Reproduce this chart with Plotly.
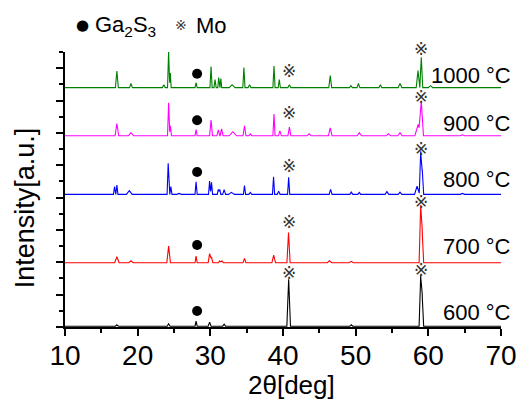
import plotly.graph_objects as go

# ---------------- data ----------------
temperatures = ["600 °C", "700 °C", "800 °C", "900 °C", "1000 °C"]
colors = ["black", "#ff0000", "#0000ff", "#ff00ff", "#008000"]
offsets = [0.05, 3.97, 8.2, 11.82, 14.8]

# peak positions (2θ, deg), heights (a.u.) and half-widths (deg)
pos_600 = [17.14, 24.26, 28.04, 29.9, 31.9, 40.78, 49.4, 58.95, 59.16]
hgt_600 = [0.09, 0.15, 0.31, 0.25, 0.12, 2.9, 0.09, 3.15, 1.85]
wid_600 = [0.2, 0.2, 0.15, 0.2, 0.2, 0.25, 0.2, 0.22, 0.2]

pos_700 = [17.14, 19.08, 24.26, 28.04, 29.9, 30.15, 31.3, 31.6, 34.7, 38.72,
           40.76, 46.4, 49.4, 58.95, 59.16]
hgt_700 = [0.37, 0.12, 1.03, 0.41, 0.57, 0.37, 0.12, 0.12, 0.27, 0.48,
           1.87, 0.12, 0.09, 3.57, 1.92]
wid_700 = [0.3, 0.3, 0.25, 0.15, 0.2, 0.2, 0.2, 0.2, 0.2, 0.25,
           0.22, 0.3, 0.3, 0.22, 0.2]

pos_800 = [16.82, 17.14, 18.85, 24.2, 24.57, 25.7, 28.04, 29.9, 30.16, 31.1,
           31.3, 31.9, 32.9, 34.7, 35.5, 38.7, 39.4, 40.78, 46.55, 49.4,
           50.5, 54.3, 56.1, 58.45, 58.95, 59.16, 64.7]
hgt_800 = [0.48, 0.57, 0.23, 1.92, 0.48, 0.06, 0.78, 0.82, 0.74, 0.31,
           0.31, 0.29, 0.12, 0.54, 0.12, 1.09, 0.2, 1.05, 0.31, 0.14,
           0.12, 0.17, 0.14, 0.5, 2.66, 1.55, 0.06]
wid_800 = [0.15, 0.15, 0.4, 0.15, 0.15, 0.3, 0.15, 0.15, 0.15, 0.15,
           0.15, 0.2, 0.4, 0.15, 0.2, 0.15, 0.2, 0.15, 0.2, 0.2,
           0.2, 0.25, 0.25, 0.35, 0.2, 0.2, 0.3]

pos_900 = [17.14, 19.08, 24.26, 24.5, 28.04, 30.1, 31.1, 31.55, 33.1, 34.7,
           35.5, 38.76, 39.57, 40.88, 43.6, 46.5, 50.5, 54.5, 56.1, 58.6,
           59.03, 64.7]
hgt_900 = [0.76, 0.19, 2.04, 0.62, 0.39, 0.97, 0.37, 0.43, 0.25, 0.62,
           0.12, 1.34, 0.31, 0.54, 0.12, 0.49, 0.19, 0.12, 0.19, 0.7,
           2.1, 0.06]
wid_900 = [0.25, 0.35, 0.15, 0.15, 0.15, 0.2, 0.2, 0.2, 0.5, 0.2,
           0.2, 0.15, 0.2, 0.2, 0.3, 0.25, 0.3, 0.3, 0.3, 0.45,
           0.3, 0.3]

pos_1000 = [17.14, 19.08, 23.6, 24.26, 24.49, 28.04, 30.1, 30.65, 31.15, 31.45,
            33.0, 34.62, 35.4, 38.76, 39.49, 40.88, 46.5, 49.35, 50.38, 53.4,
            56.1, 58.58, 59.03, 60.3]
hgt_1000 = [1.03, 0.25, 0.18, 2.27, 0.9, 0.31, 1.3, 0.5, 0.62, 0.56,
            0.18, 1.24, 0.18, 1.34, 0.5, 0.18, 0.74, 0.12, 0.25, 0.18,
            0.25, 1.05, 1.88, 0.12]
wid_1000 = [0.2, 0.2, 0.2, 0.15, 0.12, 0.15, 0.15, 0.15, 0.12, 0.12,
            0.4, 0.15, 0.2, 0.15, 0.15, 0.2, 0.2, 0.2, 0.2, 0.2,
            0.25, 0.25, 0.2, 0.3]

peaks = [(pos_600, hgt_600, wid_600), (pos_700, hgt_700, wid_700),
         (pos_800, hgt_800, wid_800), (pos_900, hgt_900, wid_900),
         (pos_1000, hgt_1000, wid_1000)]

# phase markers
ga2s3_x = [28.18, 28.18, 28.18, 28.18, 28.18]
ga2s3_y = [0.99, 5.07, 9.58, 12.78, 15.66]
mo_x = [40.85, 58.95, 40.85, 58.95, 40.85, 58.95, 40.85, 58.95, 40.85, 58.95]
mo_y = [3.36, 3.52, 6.5, 7.74, 9.97, 10.98, 13.25, 14.23, 15.84, 17.16]

label_y = [0.87, 5.0, 9.09, 12.6, 15.57]

x_ticks = [10, 20, 30, 40, 50, 60, 70]
Y_MAX = 17


def profile(pos, hgt, wid):
    xs = {10.0, 70.0}
    for p, w in zip(pos, wid):
        xs.update([p - w, p, p + w])
    xs = sorted(x for x in xs if 10 <= x <= 70)
    ys = []
    for x in xs:
        s = 0.0
        for p, h, w in zip(pos, hgt, wid):
            d = abs(x - p)
            if d < w:
                s += h * (1 - d / w)
        ys.append(s)
    return xs, ys


FONT = "Liberation Sans, Arial, sans-serif"
W, H = 529, 399
L, R, T, B = 65, 20, 52, 72
pw, ph = W - L - R, H - T - B


def px(xp):
    return (xp - L) / pw


def py(yp):
    return (H - B - yp) / ph


fig = go.Figure()

for (pos, hgt, wid), off, col in zip(peaks, offsets, colors):
    xs, ys = profile(pos, hgt, wid)
    fig.add_trace(go.Scatter(x=xs, y=[y + off for y in ys], mode="lines",
                             line=dict(color=col, width=1.1), showlegend=False,
                             hoverinfo="skip"))

fig.add_trace(go.Scatter(x=ga2s3_x, y=ga2s3_y, mode="markers",
                         marker=dict(color="black", size=10), showlegend=False,
                         cliponaxis=False, hoverinfo="skip"))

annotations = []
for mx, my in zip(mo_x, mo_y):
    annotations.append(dict(x=mx, y=my / Y_MAX, xref="x", yref="paper", text="※",
                            showarrow=False, xanchor="center", yanchor="middle",
                            font=dict(size=17, family="DejaVu Sans", color="#333333")))

# legend at the top
annotations += [
    dict(x=px(83), y=py(25), xref="paper", yref="paper", text="●",
         showarrow=False, xanchor="center", yanchor="middle",
         font=dict(size=15, family="DejaVu Sans", color="black")),
    dict(x=px(94), y=py(26), xref="paper", yref="paper", text="Ga<sub>2</sub>S<sub>3</sub>",
         showarrow=False, xanchor="left", yanchor="middle",
         font=dict(size=22, family=FONT, color="black")),
    dict(x=px(183), y=py(25), xref="paper", yref="paper", text="※",
         showarrow=False, xanchor="center", yanchor="middle",
         font=dict(size=14, family="DejaVu Sans", color="#333333")),
    dict(x=px(196), y=py(25), xref="paper", yref="paper", text="Mo",
         showarrow=False, xanchor="left", yanchor="middle",
         font=dict(size=22, family=FONT, color="black")),
]
for t, ly in zip(temperatures, label_y):
    annotations.append(dict(x=px(521), y=ly, xref="paper", yref="y", text=t,
                            showarrow=False, xanchor="right", yanchor="middle",
                            font=dict(size=22, family=FONT, color="black")))
# axis titles
annotations.append(dict(x=px(295.5), y=py(385), xref="paper", yref="paper", text="2θ[deg]",
                        showarrow=False, xanchor="center", yanchor="middle",
                        font=dict(size=26, family=FONT, color="black")))
annotations.append(dict(x=px(24), y=py(207.5), xref="paper", yref="paper",
                        text="Intensity[a.u.]", textangle=-90, showarrow=False,
                        xanchor="center", yanchor="middle",
                        font=dict(size=27, family=FONT, color="black")))

fig.update_layout(
    width=W, height=H,
    margin=dict(l=L, r=R, t=T, b=B),
    paper_bgcolor="white", plot_bgcolor="white",
    annotations=annotations,
    xaxis=dict(range=[10, 70], tickvals=x_ticks, ticks="outside", ticklen=7,
               tickwidth=1.5, tickcolor="black", showline=True, linecolor="black",
               linewidth=1.5, showgrid=False, zeroline=False, ticklabelstandoff=-4,
               tickfont=dict(size=28, family=FONT, color="black"),
               minor=dict(dtick=5, ticks="outside", ticklen=4, tickwidth=1.5,
                          tickcolor="black", showgrid=False)),
    yaxis=dict(range=[0, Y_MAX], dtick=2, tick0=0, ticks="outside", ticklen=7,
               tickwidth=1.5, tickcolor="black", showline=True, linecolor="black",
               linewidth=1.5, showgrid=False, zeroline=False, showticklabels=False,
               minor=dict(dtick=1, ticks="outside", ticklen=4, tickwidth=1.5,
                          tickcolor="black", showgrid=False)),
)

fig.write_html("out.html", config={"displayModeBar": False},
               post_script="document.body.style.margin='0';")
